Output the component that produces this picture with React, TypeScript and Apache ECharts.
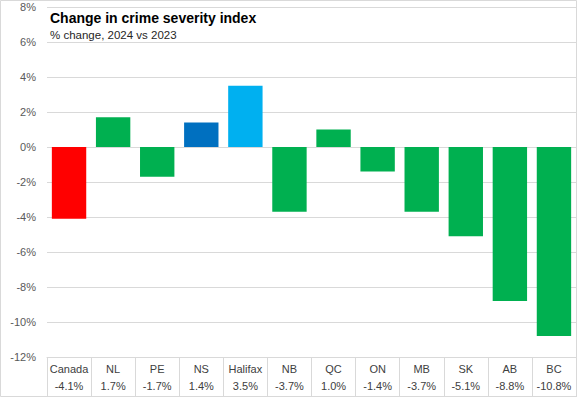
import React, { useEffect, useRef } from "react";
import * as echarts from "echarts";

const categories = ["Canada", "NL", "PE", "NS", "Halifax", "NB", "QC", "ON", "MB", "SK", "AB", "BC"];
const values = [-4.1, 1.7, -1.7, 1.4, 3.5, -3.7, 1.0, -1.4, -3.7, -5.1, -8.8, -10.8];
const barColors = ["#ff0000", "#00b050", "#00b050", "#0070c0", "#00b0f0", "#00b050", "#00b050", "#00b050", "#00b050", "#00b050", "#00b050", "#00b050"];
const titleText = "Change in crime severity index";
const subtitleText = "% change, 2024 vs 2023";

export default function App() {
  const ref = useRef<HTMLDivElement>(null);
  useEffect(() => {
    document.body.style.margin = "0";
    const chart = echarts.init(ref.current!, undefined, { renderer: "svg" });
    const font = "Liberation Sans, Arial, sans-serif";
    chart.setOption({
      animation: false,
      textStyle: { fontFamily: font },
      title: {
        text: titleText,
        subtext: subtitleText,
        left: 45,
        top: 6,
        itemGap: 4,
        textStyle: { fontSize: 14, fontWeight: "bold", color: "#000000", fontFamily: font },
        subtextStyle: { fontSize: 11.5, color: "#262626", fontFamily: font },
      },
      grid: { left: 47, right: 1, top: 7, bottom: 40, containLabel: false },
      xAxis: {
        type: "category",
        data: categories,
        axisLine: { show: true, onZero: false, lineStyle: { color: "#d9d9d9" } },
        axisTick: { show: true, length: 40, lineStyle: { color: "#d9d9d9" } },
        axisLabel: {
          interval: 0,
          margin: 3,
          formatter: (v: string, i: number) => `{n|${v}}\n{v|${values[i].toFixed(1)}%}`,
          rich: {
            n: { fontSize: 11, color: "#404040", lineHeight: 17, fontFamily: font },
            v: { fontSize: 11, color: "#404040", lineHeight: 17, fontFamily: font },
          },
        },
      },
      yAxis: {
        type: "value",
        min: -12,
        max: 8,
        interval: 2,
        axisLine: { show: false },
        axisTick: { show: false },
        axisLabel: { formatter: "{value}%", color: "#595959", fontSize: 11, margin: 11, fontFamily: font },
        splitLine: { lineStyle: { color: "#d9d9d9" } },
      },
      series: [
        {
          type: "bar",
          data: values.map((v, i) => ({ value: v, itemStyle: { color: barColors[i] } })),
          barCategoryGap: "22%",
        },
      ],
      graphic: [
        {
          type: "rect",
          shape: { x: 0.5, y: 0.5, width: 576, height: 396 },
          style: { fill: "none", stroke: "#d9d9d9", lineWidth: 1 },
          silent: true,
        },
      ],
    });
    return () => chart.dispose();
  }, []);
  return <div ref={ref} style={{ width: 577, height: 397 }} />;
}
